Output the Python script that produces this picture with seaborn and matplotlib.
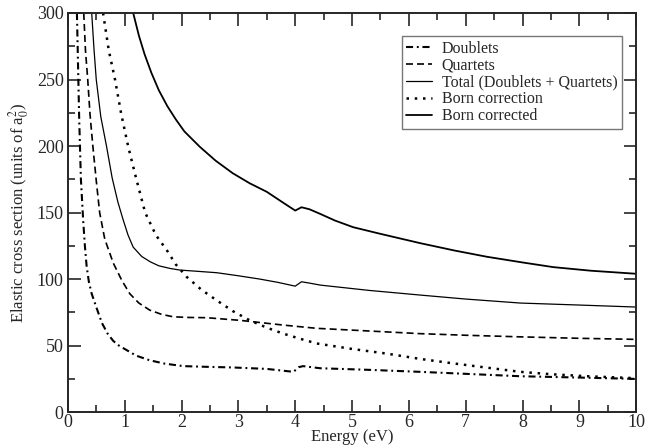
import numpy as np
import pandas as pd
import seaborn as sns
import matplotlib.pyplot as plt

# values
doublets_x = [0.16, 0.2, 0.23, 0.27, 0.3, 0.33, 0.37, 0.42, 0.5, 0.6, 0.7, 0.8, 0.9, 1.0, 1.2, 1.44,
              1.7, 2.03, 2.5, 2.9, 3.5, 3.97, 4.06, 4.14, 4.44, 5.3, 6.2, 7.0, 7.96, 9.0, 10.0]
doublets_y = [300, 220, 175, 144, 125, 110, 98, 89, 79, 67, 59, 53.5, 50, 47.5, 42.5, 39,
              36.5, 34.6, 34, 33.6, 32.5, 30.3, 33.8, 34.6, 33, 31.8, 30.3, 28.8, 27, 26, 25]

quartets_x = [0.28, 0.31, 0.35, 0.39, 0.44, 0.5, 0.56, 0.65, 0.8, 0.95, 1.09, 1.25, 1.44, 1.65, 1.85,
              2.1, 2.44, 3.03, 3.8, 4.38, 5.3, 6.2, 7.0, 7.96, 9.0, 10.0]
quartets_y = [300, 272, 250, 224, 200, 174, 150, 130, 112, 99, 89, 82, 76.7, 73.5, 71.7,
              71.2, 71, 69, 65.4, 63, 61, 59, 57.8, 56.6, 55.5, 54.7]

total_x = [0.42, 0.46, 0.5, 0.58, 0.68, 0.78, 0.88, 0.97, 1.06, 1.15, 1.3, 1.45, 1.6, 1.8, 1.97, 2.3,
           2.62, 3.0, 3.38, 3.7, 4.0, 4.11, 4.25, 4.44, 5.3, 6.2, 7.0, 7.96, 9.0, 10.0]
total_y = [300, 273, 250, 222, 200, 176, 158, 145, 133, 124, 117, 113, 110, 108, 106.8, 105.8,
           104.8, 102.5, 100, 97.5, 94.7, 98, 97, 95.5, 91.5, 88, 85, 82, 80.5, 79]

born_x = [0.62, 0.72, 0.83, 0.94, 1.06, 1.2, 1.36, 1.55, 1.74, 1.9, 2.09, 2.35, 2.62, 2.9, 3.2, 3.5,
          3.79, 4.1, 4.38, 5.0, 5.61, 6.2, 6.79, 7.4, 7.96, 8.5, 9.13, 10.0]
born_y = [300, 272, 250, 224, 200, 176, 150, 133, 121.8, 111, 101.7, 92, 84, 76, 69, 63.5,
          59, 55, 51.6, 47.5, 44, 40, 36.6, 33.3, 30.3, 28.5, 27, 25.5]

bcorr_x = [1.15, 1.25, 1.35, 1.47, 1.6, 1.75, 1.9, 2.05, 2.32, 2.6, 2.9, 3.2, 3.5, 3.75, 4.0, 4.11,
           4.25, 4.44, 4.7, 5.02, 5.5, 6.2, 6.8, 7.37, 8.0, 8.54, 9.2, 10.0]
bcorr_y = [300, 283, 269, 255, 242, 230, 220, 211, 199.5, 189, 179.6, 172, 165.6, 158.5, 151.5, 154,
           152.5, 149, 144, 139, 134, 127, 121.5, 116.8, 112.5, 109, 106.3, 104]

series = [
    ("Doublets", doublets_x, doublets_y, dict(dashes=(3.4, 1.8, 0.9, 1.8), lw=1.5)),
    ("Quartets", quartets_x, quartets_y, dict(dashes=(4.2, 2.4), lw=1.2)),
    ("Total (Doublets + Quartets)", total_x, total_y, dict(ls="-", lw=0.9)),
    ("Born correction", born_x, born_y, dict(dashes=(1.0, 2.3), lw=1.8)),
    ("Born corrected", bcorr_x, bcorr_y, dict(ls="-", lw=1.3)),
]

sns.set_style("ticks")
plt.rcParams["font.family"] = ["Liberation Serif", "DejaVu Serif"]
plt.rcParams["mathtext.fontset"] = "stix"

fig = plt.figure(figsize=(6.46, 4.48), dpi=100)
ax = fig.add_axes([0.105, 0.080, 0.880, 0.891])

for name, xs, ys, style in series:
    df = pd.DataFrame({"x": xs, "y": ys})
    sns.lineplot(data=df, x="x", y="y", ax=ax, color="black", label=name, **style)

ax.set_xlim(0, 10)
ax.set_ylim(0, 300)
ax.set_xticks(np.arange(0, 11, 1))
ax.set_xticks(np.arange(0, 10.5, 0.5), minor=True)
ax.set_yticks(np.arange(0, 301, 50))
ax.set_yticks(np.arange(0, 301, 25), minor=True)
ax.tick_params(which="both", direction="in", top=True, right=True, width=1.2, labelsize=13, pad=3)
ax.tick_params(axis="x", pad=1)
ax.tick_params(which="major", length=9)
ax.tick_params(which="minor", length=5)
for s in ax.spines.values():
    s.set_linewidth(1.4)

ax.set_xlabel("Energy (eV)", fontsize=12, labelpad=-1)
ax.set_ylabel("Elastic cross section (units of a$_0^2$)", fontsize=12, labelpad=4)

leg = ax.legend(loc="upper right", bbox_to_anchor=(0.975, 0.942), fontsize=11.5,
                frameon=True, fancybox=False, edgecolor="#555555",
                handlelength=1.6, handletextpad=0.6, labelspacing=0.05,
                borderpad=0.3, borderaxespad=0)
leg.get_frame().set_linewidth(1.0)

fig.savefig("out.png", dpi=100)
